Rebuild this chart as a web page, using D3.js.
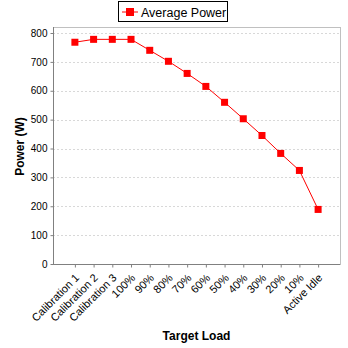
<!DOCTYPE html>
<html><head><meta charset="utf-8">
<script src="https://cdn.jsdelivr.net/npm/d3@7"></script>
<style>body{margin:0;background:#fff}svg{display:block}</style>
</head><body>
<script>
const categories = ["Calibration 1","Calibration 2","Calibration 3","100%","90%","80%","70%","60%","50%","40%","30%","20%","10%","Active Idle"];
const averagePower = [768,778,778,778,740,702,660,615,560,503,445,383,324,189];
const yTicks = [0,100,200,300,400,500,600,700,800];

const W=348,H=348;
const m={left:53,right:340,top:27,bottom:264};
const svg=d3.select("body").append("svg").attr("width",W).attr("height",H);
const font="Liberation Sans, Arial, sans-serif";

const x=d3.scalePoint().domain(categories).range([m.left,m.right]).padding(1.17);
const y=d3.scaleLinear().domain([0,800]).range([m.bottom,33]);

// plot border
svg.append("rect").attr("x",m.left+0.5).attr("y",m.top+0.5).attr("width",m.right-m.left).attr("height",m.bottom-m.top)
  .attr("fill","#fff").attr("stroke","#c0c0c0").attr("stroke-width",1);

// grid
svg.append("g").selectAll("line").data(yTicks.filter(d=>d>0)).join("line")
  .attr("x1",m.left).attr("x2",m.right).attr("y1",d=>Math.round(y(d))+0.5).attr("y2",d=>Math.round(y(d))+0.5)
  .attr("stroke","#d8d8d8").attr("stroke-dasharray","2,2");

// y axis
const ya=svg.append("g").attr("transform",`translate(${m.left+0.5},0)`)
  .call(d3.axisLeft(y).tickValues(yTicks).tickSize(3).tickPadding(3).tickSizeOuter(0));
ya.select(".domain").attr("stroke","#808080").attr("d",`M0,${m.top}V${m.bottom+0.5}`);
ya.selectAll(".tick line").attr("stroke","#808080");
ya.selectAll(".tick text").attr("font-family",font).attr("font-size",10).attr("fill","#000");

// x axis
const xa=svg.append("g").attr("transform",`translate(0,${m.bottom+0.5})`)
  .call(d3.axisBottom(x).tickSize(3).tickSizeOuter(0));
xa.select(".domain").attr("stroke","#808080").attr("d",`M${m.left},0H${m.right}`);
xa.selectAll(".tick line").attr("stroke","#808080");
xa.selectAll(".tick text").attr("font-family",font).attr("font-size",11).attr("fill","#000")
  .attr("text-anchor","end").attr("dy",null).attr("y",null)
  .attr("transform","translate(4.5,14) rotate(-45)");

// line
svg.append("path").datum(averagePower).attr("fill","none").attr("stroke","#ff0000").attr("stroke-width",1)
  .attr("d",d3.line().x((d,i)=>x(categories[i])).y(d=>y(d)));
svg.append("g").selectAll("rect").data(averagePower).join("rect")
  .attr("x",(d,i)=>x(categories[i])-3.5).attr("y",d=>y(d)-3.5).attr("width",7).attr("height",7).attr("fill","#ff0000");

// axis titles
svg.append("text").attr("x",(m.left+m.right)/2).attr("y",340).attr("text-anchor","middle")
  .attr("font-family",font).attr("font-weight","bold").attr("font-size",12).text("Target Load");
svg.append("text").attr("transform",`translate(24,${(m.top+m.bottom)/2+1}) rotate(-90)`).attr("text-anchor","middle")
  .attr("font-family",font).attr("font-weight","bold").attr("font-size",12).text("Power (W)");

// legend
const lg=svg.append("g");
lg.append("rect").attr("x",118.5).attr("y",1.5).attr("width",109).attr("height",20).attr("fill","#fff").attr("stroke","#000");
lg.append("line").attr("x1",122).attr("x2",138).attr("y1",12).attr("y2",12).attr("stroke","#ff0000");
lg.append("rect").attr("x",126).attr("y",8).attr("width",8).attr("height",8).attr("fill","#ff0000");
lg.append("text").attr("x",141).attr("y",16.5).attr("font-family",font).attr("font-size",12.5).text("Average Power");
</script>
</body></html>
